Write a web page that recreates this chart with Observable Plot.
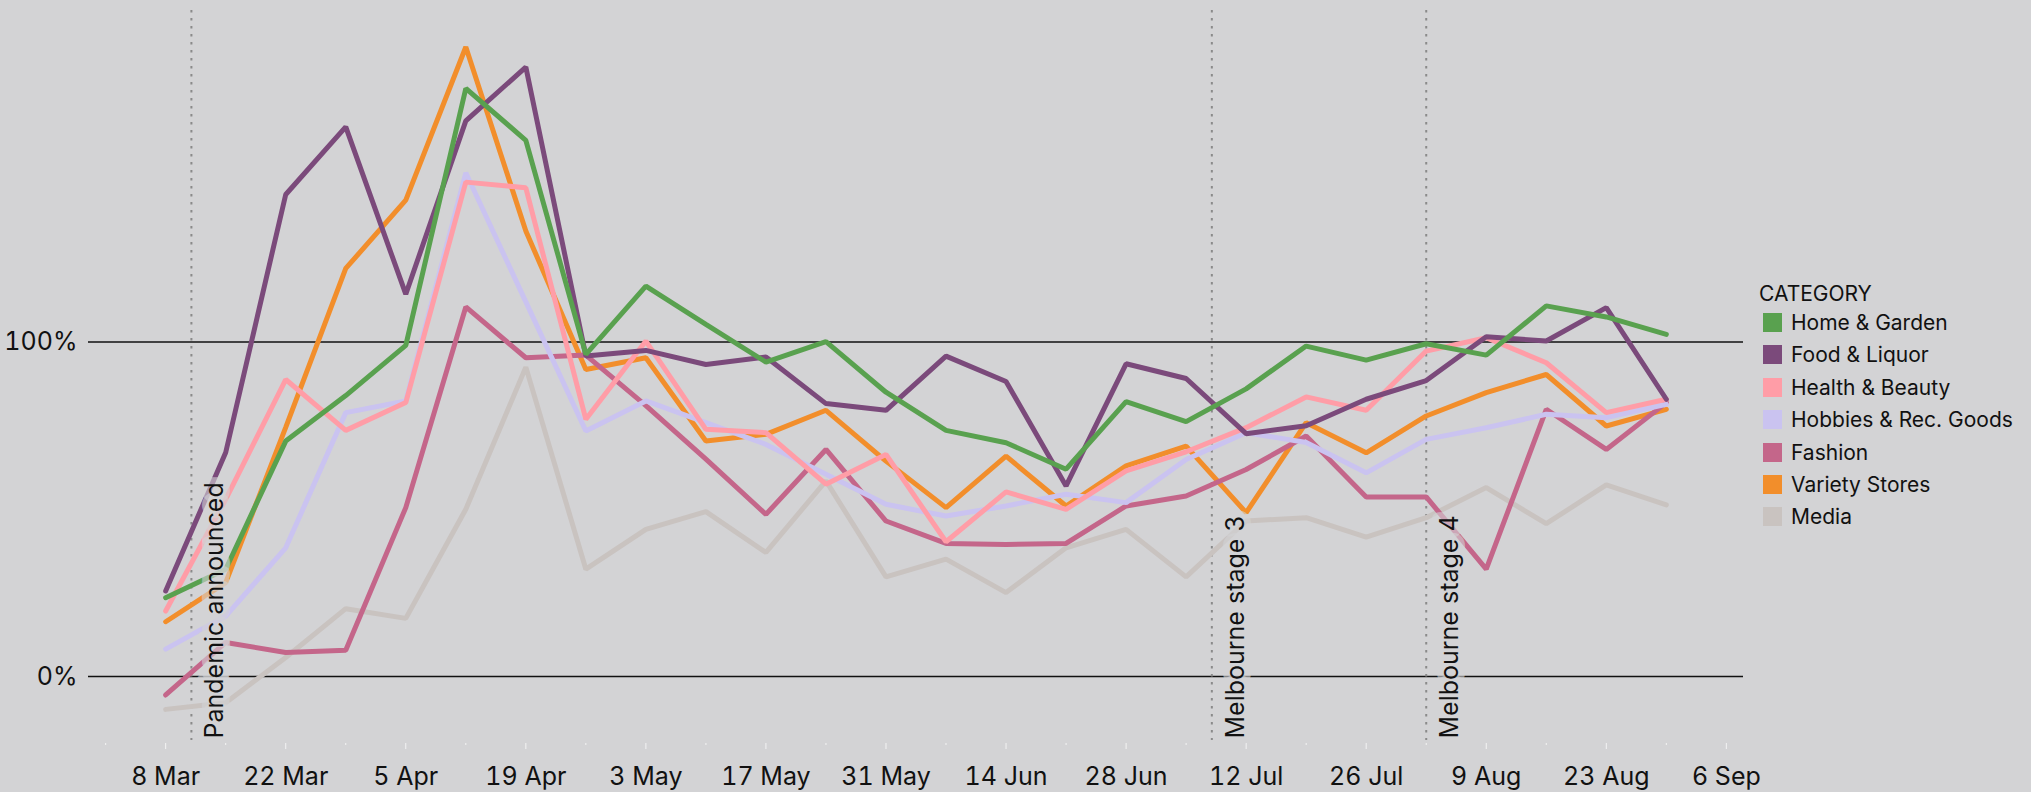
<!DOCTYPE html>
<html>
<head>
<meta charset="utf-8">
<script src="https://cdn.jsdelivr.net/npm/d3@7"></script>
<script src="https://cdn.jsdelivr.net/npm/@observablehq/plot@0.6"></script>
<style>
  html, body { margin: 0; padding: 0; background: #d3d3d5; }
  #wrap { position: relative; width: 2031px; height: 792px; font-family: Inter, "Noto Sans", sans-serif; }
  #legend { position: absolute; left: 1759px; top: 280.5px; color: #111; font-size: 21px; font-family: Inter, sans-serif; }
  #legend .title { line-height: 25px; height: 25px; }
  #legend .rows { margin-top: 0.8px; }
  #legend .row { display: flex; align-items: center; height: 32.4px; line-height: 25px; white-space: nowrap; }
  #legend .sw { width: 19px; height: 19px; margin-left: 4.3px; margin-right: 8.7px; flex: none; }
</style>
</head>
<body>
<div id="wrap"></div>
<script>
// ---- data ----
const weeks = ["2020-03-08","2020-03-15","2020-03-22","2020-03-29","2020-04-05","2020-04-12","2020-04-19","2020-04-26",
  "2020-05-03","2020-05-10","2020-05-17","2020-05-24","2020-05-31","2020-06-07","2020-06-14","2020-06-21","2020-06-28",
  "2020-07-05","2020-07-12","2020-07-19","2020-07-26","2020-08-02","2020-08-09","2020-08-16","2020-08-23","2020-08-30"];

const categories = ["Home & Garden","Food & Liquor","Health & Beauty","Hobbies & Rec. Goods","Fashion","Variety Stores","Media"];
const colors = ["#59a14f","#7b4a7b","#ff9da7","#cac3f0","#c4668a","#f28e2b","#c9c3c0"];

const homeGarden = [23.6, 32.1, 70.4, 84, 99, 175.8, 160.3, 96.3, 116.7, 105.3, 94.0, 100.1, 85, 73.6, 69.9, 62.0, 82.2, 76.2, 86, 98.8, 94.6, 99.5, 96.1, 110.8, 107.5, 102.3];
const foodLiquor = [25.6, 67, 144.1, 164.3, 114.3, 166.1, 182.2, 95.8, 97.5, 93.3, 95.5, 81.6, 79.6, 95.8, 88.2, 57.0, 93.5, 89.1, 72.6, 75, 82.9, 88.5, 101.6, 100.3, 110.3, 82.9];
const healthBeauty = [19.6, 53, 88.8, 73.6, 81.9, 147.8, 146.1, 76.9, 100.3, 73.9, 72.9, 57.5, 66.4, 40.3, 55.2, 50.0, 61.5, 67.2, 74.4, 83.6, 79.6, 97.3, 101.3, 93.8, 78.9, 82.9];
const hobbies = [8.2, 18.1, 38.5, 78.9, 82.4, 150.6, 112, 73.4, 82.4, 75.9, 69.4, 60.5, 51.5, 48.0, 51.0, 54.5, 52.0, 64.9, 72.9, 70, 60.9, 70.9, 74.4, 78.4, 77.4, 81.4];
const fashion = [-5.5, 10.2, 7.2, 7.9, 50.5, 110.5, 95.3, 96.1, 81, 65, 48.5, 67.9, 46.5, 39.8, 39.5, 39.8, 51.0, 54.0, 61.9, 71.9, 53.7, 53.7, 32.1, 79.9, 67.9, 81.9];
const varietyStores = [16.4, 28.1, 74.5, 122, 142.4, 188.2, 133.2, 91.8, 95.3, 70.4, 72.4, 79.6, 64.4, 50.5, 65.9, 51.0, 63.0, 68.9, 49.0, 75.9, 66.9, 77.9, 84.9, 90.3, 74.9, 79.9];
const media = [-9.8, -7.8, 5.7, 20.3, 17.4, 50.0, 92.5, 32.1, 44.0, 49.3, 37.1, 58.5, 29.8, 35.1, 25.1, 38.5, 44.0, 29.8, 46.5, 47.5, 41.7, 47.5, 56.5, 45.7, 57.3, 51.3];

const seriesValues = [homeGarden, foodLiquor, healthBeauty, hobbies, fashion, varietyStores, media];

const eventDates = ["2020-03-11", "2020-07-08", "2020-08-02"];
const eventLabels = ["Pandemic announced", "Melbourne stage 3", "Melbourne stage 4"];

const majorTickDates = ["2020-03-08","2020-03-22","2020-04-05","2020-04-19","2020-05-03","2020-05-17","2020-05-31",
  "2020-06-14","2020-06-28","2020-07-12","2020-07-26","2020-08-09","2020-08-23","2020-09-06"];
const minorTickDates = ["2020-03-01","2020-03-15","2020-03-29","2020-04-12","2020-04-26","2020-05-10","2020-05-24",
  "2020-06-07","2020-06-21","2020-07-05","2020-07-19","2020-08-02","2020-08-16","2020-08-30"];
const yTickValues = [0, 100];
const xDomain = ["2020-02-28", "2020-09-08"];
const yDomain = [-20, 200];

// ---- build table (draw order: last category at bottom, first on top) ----
const table = [];
for (let k = categories.length - 1; k >= 0; k--) {
  seriesValues[k].forEach((v, i) => table.push({date: new Date(weeks[i]), value: v, category: categories[k]}));
}
const events = eventDates.map((d, i) => ({date: new Date(d), label: eventLabels[i]}));
const bg = "#d3d3d5";

const chart = Plot.plot({
  width: 2031,
  height: 792,
  marginLeft: 88,
  marginRight: 288,
  marginTop: 7,
  marginBottom: 49,
  style: {background: "transparent", fontFamily: "Inter, sans-serif", fontSize: "25px", color: "#111", overflow: "visible"},
  x: {type: "utc", domain: xDomain.map(d => new Date(d)), label: null},
  y: {domain: yDomain, label: null},
  color: {domain: categories, range: colors},
  marks: [
    Plot.ruleY(yTickValues, {stroke: "#111", strokeWidth: 1.5}),
    Plot.ruleX(events, {x: "date", stroke: "#8a8a8a", strokeWidth: 2, strokeDasharray: "2.5,5.5", insetTop: 3, insetBottom: 3}),
    Plot.axisY({ticks: yTickValues, tickSize: 0, tickPadding: 11, tickFormat: d => d + "%", fontSize: 25, fill: "#111", label: null}),
    Plot.axisX({ticks: majorTickDates.map(d => new Date(d)), tickSize: 6, tickPadding: 17.5, stroke: "#f4f4f4",
      fill: "#111", fontSize: 25, tickFormat: d3.utcFormat("%-d %b"), label: null}),
    Plot.axisX({ticks: minorTickDates.map(d => new Date(d)), tickSize: 2, stroke: "#f4f4f4", fill: "none", label: null}),
    Plot.line(table, {x: "date", y: "value", z: "category", stroke: "category", strokeWidth: 5,
      strokeLinejoin: "miter", strokeLinecap: "round"}),
    Plot.text(events, {x: "date", text: "label", rotate: -90, frameAnchor: "bottom", textAnchor: "start",
      dx: 32, dy: -5, fontSize: 25, fill: "#111", stroke: bg, strokeWidth: 14, strokeOpacity: 0.6,
      strokeLinejoin: "round", paintOrder: "stroke"})
  ]
});

const wrap = document.getElementById("wrap");
wrap.appendChild(chart);

// ---- legend ----
const legend = document.createElement("div");
legend.id = "legend";
const title = document.createElement("div");
title.className = "title";
title.textContent = "CATEGORY";
legend.appendChild(title);
const rows = document.createElement("div");
rows.className = "rows";
categories.forEach((c, i) => {
  const row = document.createElement("div");
  row.className = "row";
  const sw = document.createElement("span");
  sw.className = "sw";
  sw.style.background = colors[i];
  const lab = document.createElement("span");
  lab.textContent = c;
  row.appendChild(sw);
  row.appendChild(lab);
  rows.appendChild(row);
});
legend.appendChild(rows);
wrap.appendChild(legend);
</script>
</body>
</html>
